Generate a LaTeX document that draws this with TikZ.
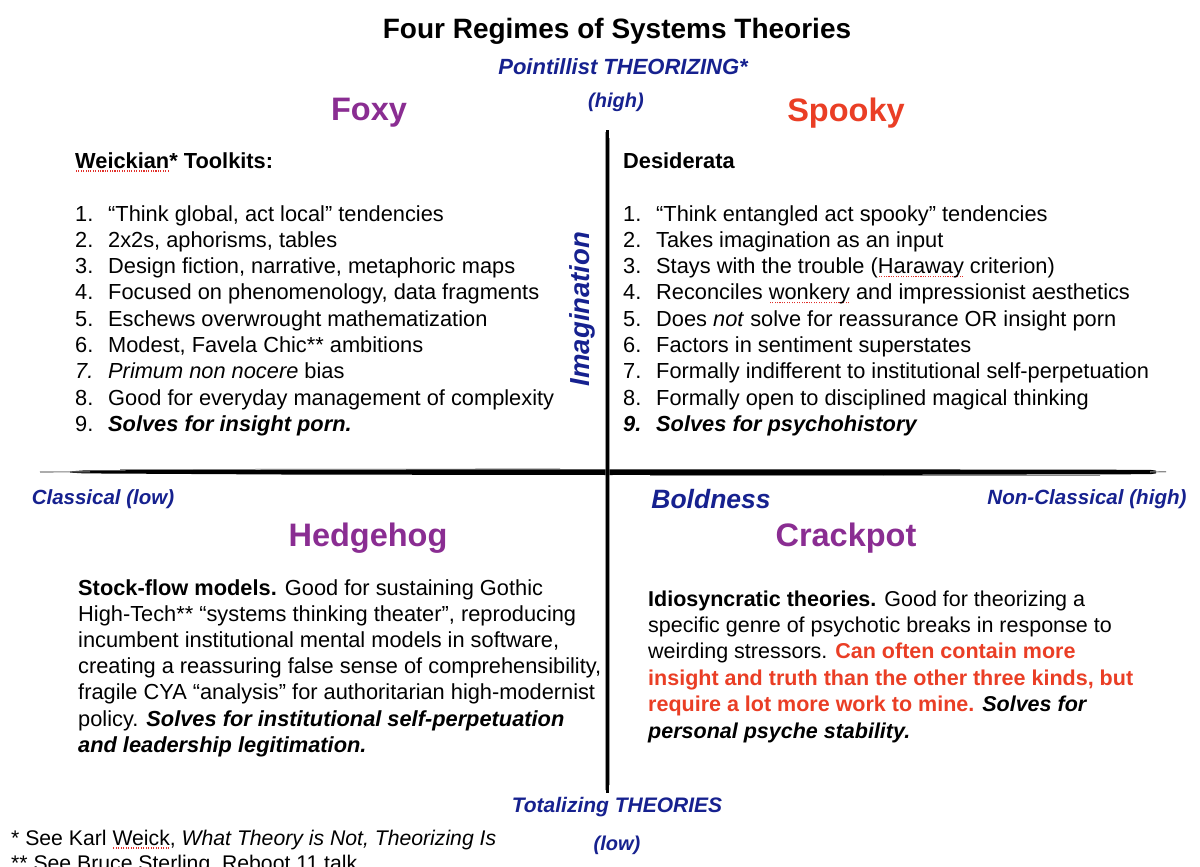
\documentclass[tikz,border=0pt]{standalone}
\usepackage{fontspec}
\setmainfont{Liberation Sans}
\definecolor{navy}{HTML}{16218F}
\definecolor{foxp}{HTML}{8A2D92}
\definecolor{spred}{HTML}{EA3E25}
\definecolor{sperrc}{HTML}{E0302A}
\newcommand\sperr[1]{\setbox0=\hbox{#1}\rlap{\raisebox{-3.5pt}[0pt][0pt]{\color{sperrc}\hbox to \wd0{\xleaders\hbox to 2.4pt{\hss\rule{1.1pt}{1.1pt}\hss}\hfill}}}\box0\relax}
\newcommand\bi[1]{\textbf{\textit{#1}}}
\tikzset{
  body/.style={font=\fontsize{21.8}{26.3}\selectfont, inner sep=0pt, anchor=base west},
  axislabel/.style={text=navy, inner sep=0pt, font=\fontsize{#1}{#1}\selectfont\bfseries\itshape},
  quadname/.style={inner sep=0pt, font=\fontsize{32.5}{36}\selectfont\bfseries},
  axisline/.style={black, line cap=butt}
}
\begin{document}
\begin{tikzpicture}[x=1pt,y=-1pt]
\useasboundingbox (0,0) rectangle (1200,867);
\fill[white] (0,0) rectangle (1200,867);
\clip (0,0) rectangle (1200,867);

% axes
\coordinate (vtop) at (607.5,130);
\coordinate (vbot) at (607.5,793);
\coordinate (hleft) at (40,472);
\coordinate (hright) at (1166,471.8);
\fill[black] (84,470.4) -- (300,469.6) -- (607,469.3) -- (900,469.4) -- (1150,469.8) -- (1156,470.6) -- (1156,473.4) -- (1150,474.2) -- (900,474.8) -- (607,475) -- (300,474.6) -- (84,473.4) -- (70,472.6) -- (70,471.4) -- cycle;
\draw[black!50, line width=1.1pt] (hleft) -- (90,471.8);
\draw[black!45, line width=1.2pt] (1150,471.9) -- (hright);
\draw[black!70, line width=0.5pt] (120,469.4) -- (560,468.9);
\draw[black!70, line width=0.5pt] (650,475.6) -- (1100,475.4);
\draw[axisline, line width=3.4pt] (vtop) -- (vbot);
\draw[black!60, line width=0.5pt] (605.3,132) -- (605.4,790);
\draw[black!60, line width=0.5pt] (609.7,138) -- (609.6,785);

% title and axis labels
\node[inner sep=0pt, font=\fontsize{28}{30}\selectfont\bfseries] (title) at (617,31) {Four Regimes of Systems Theories};
\node[axislabel=22] (point) at (623,67) {Pointillist THEORIZING*};
\node[axislabel=20] (high) at (616,102) {(high)};
\node[axislabel=27.5, rotate=90] (imag) at (582,309) {Imagination};
\node[axislabel=20.5] (classical) at (103,499) {Classical (low)};
\node[axislabel=26.5] (bold) at (711,499) {Boldness};
\node[axislabel=20.6] (nonclass) at (1087,499) {Non-Classical (high)};
\node[axislabel=21] (total) at (617,807) {Totalizing THEORIES};
\node[axislabel=20] (low) at (617,845) {(low)};

% quadrant names
\node[quadname, text=foxp] (foxy) at (369,113) {Foxy};
\node[quadname, text=spred] (spooky) at (846,113) {Spooky};
\node[quadname, text=foxp] (hedgehog) at (368,538) {Hedgehog};
\node[quadname, text=foxp] (crackpot) at (846,538) {Crackpot};

% Foxy list
\node[body] (foxhead) at (75,168) {\textbf{\sperr{Weickian}* Toolkits:}};
\foreach \n/\t [count=\i] in {
  1./{“Think global, act local” tendencies},
  2./{2x2s, aphorisms, tables},
  3./{Design fiction, narrative, metaphoric maps},
  4./{Focused on phenomenology, data fragments},
  5./{Eschews overwrought mathematization},
  6./{Modest, Favela Chic** ambitions},
  \textit{7.}/{\textit{Primum non nocere} bias},
  8./{Good for everyday management of complexity},
  9./{\bi{Solves for insight porn.}}}{
  \node[body] (fn\i) at (75,{221+(\i-1)*26.3}) {\n};
  \node[body] (ft\i) at (108,{221+(\i-1)*26.3}) {\t};
}

% Spooky list
\node[body] (sphead) at (623,168) {\textbf{Desiderata}};
\foreach \n/\t [count=\i] in {
  1./{“Think entangled act spooky” tendencies},
  2./{Takes imagination as an input},
  3./{Stays with the trouble (\sperr{Haraway} criterion)},
  4./{Reconciles \sperr{wonkery} and impressionist aesthetics},
  5./{Does \textit{not} solve for reassurance OR insight porn},
  6./{Factors in sentiment superstates},
  7./{Formally indifferent to institutional self-perpetuation},
  8./{Formally open to disciplined magical thinking},
  \bi{9.}/{\bi{Solves for psychohistory}}}{
  \node[body] (sn\i) at (623,{221+(\i-1)*26.3}) {\n};
  \node[body] (st\i) at (656,{221+(\i-1)*26.3}) {\t};
}

% Hedgehog paragraph
\foreach \t [count=\i] in {
  {\textbf{Stock-flow models.} Good for sustaining Gothic},
  {High-Tech** “systems thinking theater”, reproducing},
  {incumbent institutional mental models in software,},
  {creating a reassuring false sense of comprehensibility,},
  {fragile CYA “analysis” for authoritarian high-modernist},
  {policy. \bi{Solves for institutional self-perpetuation}},
  {\bi{and leadership legitimation.}}}{
  \node[body] (hh\i) at (78,{595+(\i-1)*26.2}) {\t};
}

% Crackpot paragraph
\foreach \t [count=\i] in {
  {\textbf{Idiosyncratic theories.} Good for theorizing a},
  {specific genre of psychotic breaks in response to},
  {weirding stressors. \textcolor{spred}{\textbf{Can often contain more}}},
  {\textcolor{spred}{\textbf{insight and truth than the other three kinds, but}}},
  {\textcolor{spred}{\textbf{require a lot more work to mine.}} \bi{Solves for}},
  {\bi{personal psyche stability.}}}{
  \node[body, font=\fontsize{21.5}{26}\selectfont] (cp\i) at (648,{606+(\i-1)*26.4}) {\t};
}

% footnotes
\node[body, font=\fontsize{21.2}{26}\selectfont] (foot1) at (11,845) {* See Karl \sperr{Weick}, \textit{What Theory is Not, Theorizing Is}};
\node[body, font=\fontsize{21.2}{26}\selectfont] (foot2) at (11,870) {** See Bruce Sterling, Reboot 11 talk};
\end{tikzpicture}
\end{document}
